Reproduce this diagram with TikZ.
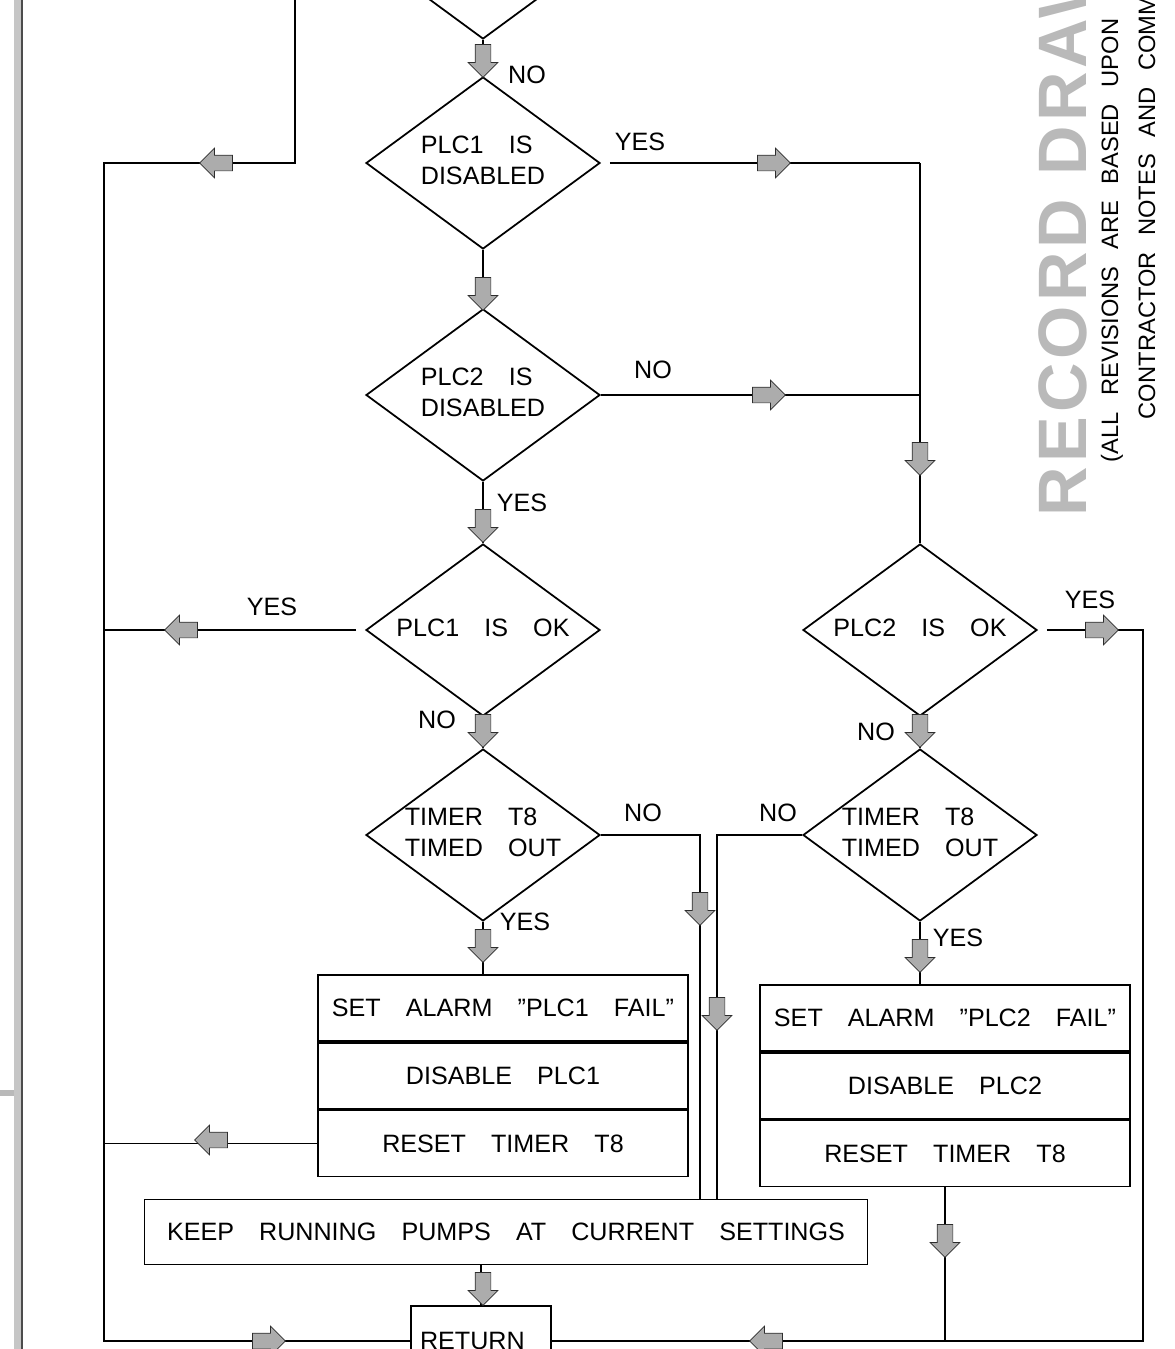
\documentclass[tikz,border=0pt]{standalone}
\usepackage{fontspec}
\setmainfont{Liberation Sans}
\usetikzlibrary{positioning,shapes.geometric,shapes.arrows}
\newdimen\pxu \pxu=0.02cm
\newcommand{\dtxt}[1]{\makebox[0pt]{\begin{tabular}{@{}l@{}}#1\end{tabular}}}
\newcommand{\sgap}{\hspace{0.7em}}

\begin{document}
\begin{tikzpicture}[x=\pxu, y=-\pxu, line width=1pt, font=\fontsize{14.3}{17.6}\selectfont,
  decision/.style={diamond, draw, inner sep=0pt, minimum width=234\pxu, minimum height=172\pxu},
  stepbox/.style={draw, inner sep=0pt, minimum width=370\pxu, minimum height=66\pxu},
  lbl/.style={inner sep=0pt},
  flowarrow/.style={single arrow, draw=gray!35!black, fill=gray!65, line width=0.4pt, inner xsep=0pt, inner ysep=7.5\pxu, minimum height=33\pxu, single arrow head extend=7\pxu},
  dn/.style={flowarrow, rotate=-90},
  lt/.style={flowarrow, rotate=180},
  rt/.style={flowarrow},
  stamp/.style={rotate=90, anchor=west, inner sep=0pt}]
\useasboundingbox (0,0) rectangle (1174,1349);
\clip (0,0) rectangle (1174,1349);

\fill[gray!45] (14,0) rectangle (22,1349);
\draw[black!70, line width=0.6pt] (22,0) -- (22,1349);
\fill[gray!55] (0,1090) rectangle (14,1096);

\node[decision] (d0) at (483,-47) {};
\node[decision] (d1) at (483,163) {\dtxt{PLC1\quad IS\\DISABLED}};
\node[decision] (d2) at (483,395) {\dtxt{PLC2\quad IS\\DISABLED}};
\node[decision] (d3) at (483,630) {\dtxt{PLC1\quad IS\quad OK}};
\node[decision] (d4) at (483,835) {\dtxt{TIMER\quad T8\\TIMED\quad OUT}};
\node[decision] (d5) at (920,630) {\dtxt{PLC2\quad IS\quad OK}};
\node[decision] (d6) at (920,835) {\dtxt{TIMER\quad T8\\TIMED\quad OUT}};

\node[stepbox] (b1a) at (503,1008) {SET\quad ALARM\quad ”PLC1\quad FAIL”};
\node[stepbox, below=0pt of b1a] (b1b) {DISABLE\quad PLC1};
\node[stepbox, below=0pt of b1b] (b1c) {RESET\quad TIMER\quad T8};
\node[stepbox] (b2a) at (945,1018) {SET\quad ALARM\quad ”PLC2\quad FAIL”};
\node[stepbox, below=0pt of b2a] (b2b) {DISABLE\quad PLC2};
\node[stepbox, below=0pt of b2b] (b2c) {RESET\quad TIMER\quad T8};
\node[stepbox, minimum width=723\pxu, minimum height=65\pxu] (keep) at (506,1232) {KEEP\quad RUNNING\quad PUMPS\quad AT\quad CURRENT\quad SETTINGS};
\node[stepbox, minimum width=0pt, minimum height=70\pxu, inner xsep=9\pxu, text width=122\pxu, align=left] (ret) at (481,1341) {RETURN};

\coordinate (topin) at (295,0);
\coordinate (lbus) at (104,163);
\coordinate (rj1) at (920,163);
\coordinate (rbus) at (1143,630);
\coordinate (nl) at (700,835);
\coordinate (nr) at (717,835);

\draw (topin) |- (lbus) -- (lbus |- ret.west) -- (ret.west);
\draw (d0.south) -- (d1.north);
\draw (d1.south) -- (d2.north);
\draw (d2.south) -- (d3.north);
\draw (d3.south) -- (d4.north);
\draw (d4.south) -- (d4.south |- b1a.north);
\draw[shorten <=9\pxu] (d1.east) -- (rj1);
\draw (rj1) -- (d5.north);
\draw (d2.east) -- (rj1 |- d2.east);
\draw[shorten <=9\pxu] (d3.west) -- (d3.west -| lbus);
\draw (d4.east) -- (nl) -- (nl |- keep.north);
\draw (b1c.west) -- (b1c.west -| lbus);
\draw[shorten <=9\pxu] (d5.east) -- (rbus) -- (rbus |- ret.east) -- (ret.east);
\draw (d5.south) -- (d6.north);
\draw (d6.west) -- (nr) -- (nr |- keep.north);
\draw (d6.south) -- (d6.south |- b2a.north);
\draw (b2c.south) -- (b2c.south |- ret.east);
\draw (keep.south -| ret.north) -- (ret.north);

\foreach \s/\x/\y [count=\i] in {dn/483/57, lt/220/163, rt/770/163, dn/483/290, rt/765/395,
  dn/920/455, dn/483/522, lt/185/630, rt/1098/630, dn/483/727, dn/920/727, dn/700/905,
  dn/483/942, dn/920/952, dn/717/1010, lt/215/1140, dn/945/1237, dn/483/1285,
  rt/265/1341, lt/770/1341}
  \node[\s] (a\i) at (\x,\y) {};

\foreach \t/\x/\y [count=\i] in {NO/527/75, YES/640/142, NO/653/370, YES/522/503,
  YES/272/607, NO/437/720, NO/643/813, YES/525/922, YES/1090/600, NO/876/732,
  NO/778/813, YES/958/938}
  \node[lbl] (l\i) at (\x,\y) {\t};

\node[stamp, text=gray!55, font=\fontsize{39}{39}\selectfont\bfseries\addfontfeatures{LetterSpace=6}] (rec) at (1063,517) {RECORD DRAW};
\node[stamp, font=\fontsize{13.5}{14}\selectfont] (rev) at (1112,463) {(ALL\sgap REVISIONS\sgap ARE\sgap BASED\sgap UPON};
\node[stamp, font=\fontsize{13.5}{14}\selectfont] (con) at (1147,420) {CONTRACTOR\sgap NOTES\sgap AND\sgap COMM};
\end{tikzpicture}
\end{document}
